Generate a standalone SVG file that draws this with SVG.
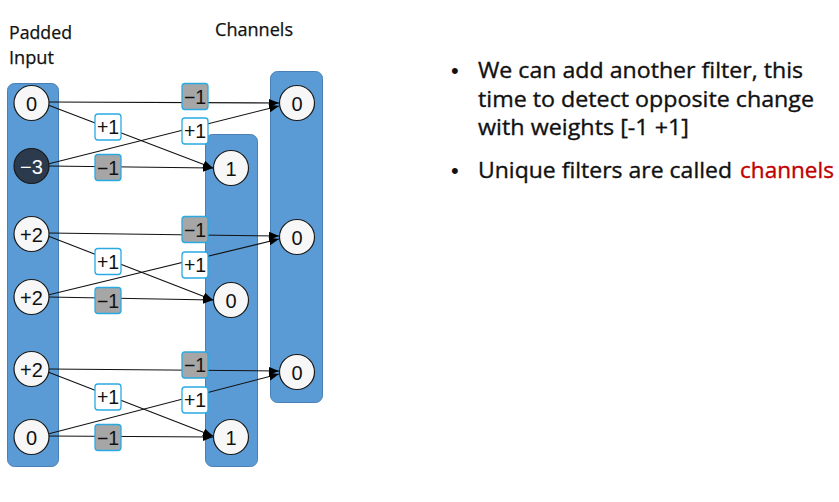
<svg xmlns="http://www.w3.org/2000/svg" width="839" height="502" viewBox="0 0 839 502">
<defs>
<marker id="arr" viewBox="0 0 10 10" refX="10" refY="5" markerWidth="10" markerHeight="10" markerUnits="userSpaceOnUse" orient="auto">
<path d="M0,1 L10,5 L0,9 Z" fill="#000"/>
</marker>
<style>
.bar{fill:#5b9bd5;stroke:#4a7fb5;stroke-width:1}
.node{fill:#f7f7f7;stroke:#1a1a1a;stroke-width:1.2}
.dark{fill:#2c3a4e;stroke:#1a1a1a;stroke-width:1.2}
.nt{font-family:"Liberation Sans",Arial,sans-serif;font-size:20px;text-anchor:middle;fill:#111}
.wt{fill:#fff}
.edge{stroke:#111;stroke-width:1.1;fill:none;marker-end:url(#arr)}
.neg{fill:#a6a6a6;stroke:#29abe2;stroke-width:1.3}
.pos{fill:#fff;stroke:#29abe2;stroke-width:1.3}
.lt{font-family:"Liberation Sans",Arial,sans-serif;font-size:19.5px;text-anchor:middle;fill:#111}
.hd{font-family:"Open Sans","Liberation Sans",sans-serif;font-size:18px;fill:#111;stroke:#111;stroke-width:0.25}
.bt{font-family:"Open Sans","Liberation Sans",sans-serif;font-size:22px;fill:#111;stroke:#111;stroke-width:0.35}
.bul{font-family:"Liberation Sans",Arial,sans-serif;font-size:22px;fill:#111}
.red{fill:#c00000;stroke:#c00000}
</style>
</defs>
<rect width="839" height="502" fill="#fff"/>

<g id="headings">
<text class="hd" x="9" y="39" textLength="63" lengthAdjust="spacingAndGlyphs">Padded</text>
<text class="hd" x="9" y="64" textLength="45" lengthAdjust="spacingAndGlyphs">Input</text>
<text class="hd" x="215" y="36" textLength="78" lengthAdjust="spacingAndGlyphs">Channels</text>
</g>

<g id="bars">
<rect id="input-bar" class="bar" x="7.5" y="83.5" width="51" height="383" rx="7"/>
<rect id="channel1-bar" class="bar" x="205.5" y="134.5" width="52" height="332" rx="7"/>
<rect id="channel2-bar" class="bar" x="270.5" y="71.5" width="52" height="331" rx="7"/>
</g>

<g id="connectors">
<line class="edge" x1="48" y1="102" x2="279" y2="103"/>
<line class="edge" x1="48" y1="105" x2="213" y2="168"/>
<line class="edge" x1="48" y1="164" x2="279" y2="106"/>
<line class="edge" x1="48" y1="166" x2="213" y2="168"/>

<line class="edge" x1="48" y1="233" x2="279" y2="236"/>
<line class="edge" x1="48" y1="236" x2="213" y2="300"/>
<line class="edge" x1="48" y1="295" x2="279" y2="239"/>
<line class="edge" x1="48" y1="297" x2="213" y2="300"/>

<line class="edge" x1="48" y1="369" x2="279" y2="371"/>
<line class="edge" x1="48" y1="372" x2="213" y2="436"/>
<line class="edge" x1="48" y1="434" x2="279" y2="374"/>
<line class="edge" x1="48" y1="436" x2="213" y2="437"/>

<g id="weights">
<rect class="neg" x="182" y="83.5" width="26" height="26" rx="3"/><text class="lt" x="195" y="103.5">−1</text>
<rect class="pos" x="182" y="118" width="26" height="26" rx="3"/><text class="lt" x="195" y="138">+1</text>
<rect class="pos" x="95" y="114" width="26" height="26" rx="3"/><text class="lt" x="108" y="134">+1</text>
<rect class="neg" x="95" y="154.5" width="26" height="26" rx="3"/><text class="lt" x="108" y="174.5">−1</text>

<rect class="neg" x="182" y="216.5" width="26" height="26" rx="3"/><text class="lt" x="195" y="236.5">−1</text>
<rect class="pos" x="182" y="252" width="26" height="26" rx="3"/><text class="lt" x="195" y="272">+1</text>
<rect class="pos" x="95" y="248.5" width="26" height="26" rx="3"/><text class="lt" x="108" y="268.5">+1</text>
<rect class="neg" x="95" y="287.5" width="26" height="26" rx="3"/><text class="lt" x="108" y="307.5">−1</text>

<rect class="neg" x="182" y="352" width="26" height="26" rx="3"/><text class="lt" x="195" y="372">−1</text>
<rect class="pos" x="182" y="387" width="26" height="26" rx="3"/><text class="lt" x="195" y="407">+1</text>
<rect class="pos" x="95" y="384" width="26" height="26" rx="3"/><text class="lt" x="108" y="404">+1</text>
<rect class="neg" x="95" y="424.5" width="26" height="26" rx="3"/><text class="lt" x="108" y="444.5">−1</text>
</g>
</g>

<g id="in0"><circle class="node" cx="31.5" cy="103" r="17.5"/><text class="nt" x="31.5" y="110.5">0</text></g>
<g id="in1"><circle class="dark" cx="31.5" cy="166" r="17.5"/><text class="nt wt" x="31.5" y="173.5">−3</text></g>
<g id="in2"><circle class="node" cx="31.5" cy="234" r="17.5"/><text class="nt" x="31.5" y="241.5">+2</text></g>
<g id="in3"><circle class="node" cx="31.5" cy="297" r="17.5"/><text class="nt" x="31.5" y="304.5">+2</text></g>
<g id="in4"><circle class="node" cx="31.5" cy="369" r="17.5"/><text class="nt" x="31.5" y="376.5">+2</text></g>
<g id="in5"><circle class="node" cx="31.5" cy="437" r="17.5"/><text class="nt" x="31.5" y="444.5">0</text></g>

<g id="c1a"><circle class="node" cx="231" cy="168" r="17.5"/><text class="nt" x="231" y="175.5">1</text></g>
<g id="c1b"><circle class="node" cx="231" cy="300" r="17.5"/><text class="nt" x="231" y="307.5">0</text></g>
<g id="c1c"><circle class="node" cx="231" cy="437" r="17.5"/><text class="nt" x="231" y="444.5">1</text></g>

<g id="c2a"><circle class="node" cx="297" cy="103" r="17.5"/><text class="nt" x="297" y="110.5">0</text></g>
<g id="c2b"><circle class="node" cx="297" cy="237" r="17.5"/><text class="nt" x="297" y="244.5">0</text></g>
<g id="c2c"><circle class="node" cx="297" cy="372" r="17.5"/><text class="nt" x="297" y="379.5">0</text></g>

<g id="bullets">
<text class="bul" x="451" y="78">•</text>
<text class="bt" x="478" y="78" textLength="325" lengthAdjust="spacingAndGlyphs">We can add another filter, this</text>
<text class="bt" x="478" y="107" textLength="336" lengthAdjust="spacingAndGlyphs">time to detect opposite change</text>
<text class="bt" x="478" y="135" textLength="211" lengthAdjust="spacingAndGlyphs">with weights [-1 +1]</text>
<text class="bul" x="451" y="178">•</text>
<text class="bt" x="478" y="178" textLength="254" lengthAdjust="spacingAndGlyphs">Unique filters are called</text>
<text class="bt red" x="740" y="178" textLength="94" lengthAdjust="spacingAndGlyphs">channels</text>
</g>
</svg>
